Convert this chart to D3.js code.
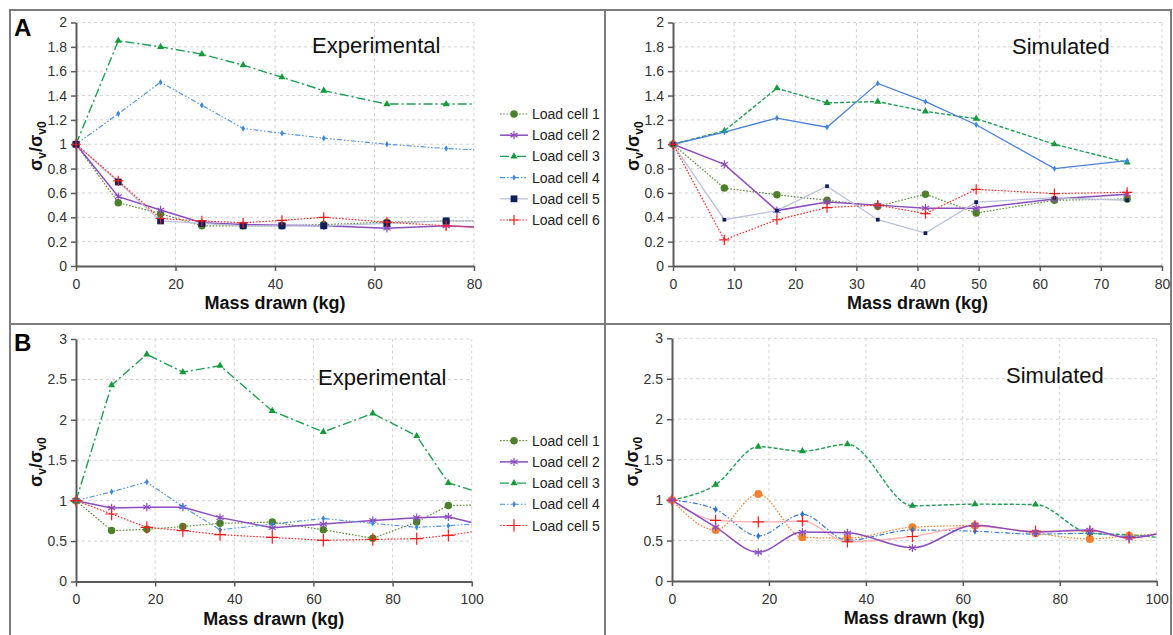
<!DOCTYPE html>
<html>
<head>
<meta charset="utf-8">
<script src="https://cdn.jsdelivr.net/npm/d3@7"></script>
<style>
    body { margin: 0; background: #fff; }
    svg text { font-family: "Liberation Sans", Arial, sans-serif; }
</style>
</head>
<body>
<div id="chart"></div>
<script>
// ---- panel A, experimental (mass drawn in kg, sigma_v / sigma_v0) ----
const massAExp = [0, 8.5, 17, 25.3, 33.6, 41.4, 49.8, 62.5, 74.4, 80];
const aExp1 = [1, 0.52, 0.43, 0.33, 0.33, 0.33, 0.34, 0.36, 0.37, 0.37];
const aExp2 = [1, 0.57, 0.46, 0.355, 0.34, 0.335, 0.33, 0.31, 0.33, 0.32];
const aExp3 = [1, 1.85, 1.80, 1.74, 1.65, 1.55, 1.44, 1.33, 1.33, 1.33];
const aExp4 = [1, 1.25, 1.51, 1.32, 1.13, 1.09, 1.05, 1.0, 0.965, 0.955];
const aExp5 = [1, 0.69, 0.37, 0.35, 0.33, 0.33, 0.33, 0.35, 0.37, 0.37];
const aExp6 = [1, 0.70, 0.39, 0.37, 0.355, 0.375, 0.40, 0.36, 0.33, 0.32];

// ---- panel A, simulated ----
const massASim = [0, 8.4, 17, 25.2, 33.5, 41.3, 49.6, 62.4, 74.3];
const aSim1 = [1, 0.64, 0.585, 0.54, 0.49, 0.59, 0.435, 0.54, 0.55];
const aSim2 = [1, 0.835, 0.455, 0.525, 0.50, 0.475, 0.475, 0.55, 0.59];
const aSim3 = [1, 1.11, 1.46, 1.34, 1.35, 1.27, 1.21, 1.00, 0.85];
const aSim4 = [1, 1.10, 1.215, 1.14, 1.50, 1.35, 1.16, 0.80, 0.865];
const aSim5 = [1, 0.38, 0.455, 0.655, 0.38, 0.27, 0.525, 0.56, 0.54];
const aSim6 = [1, 0.215, 0.38, 0.48, 0.50, 0.43, 0.63, 0.595, 0.605];

// ---- panel B, experimental ----
const massBExp = [0, 9, 17.9, 27, 36.4, 49.6, 62.5, 75, 86.1, 94.1, 100];
const bExp1 = [1, 0.63, 0.645, 0.68, 0.72, 0.735, 0.64, 0.535, 0.735, 0.94, 0.945];
const bExp2 = [1, 0.91, 0.92, 0.92, 0.79, 0.665, 0.71, 0.755, 0.79, 0.80, 0.73];
const bExp3 = [1, 2.43, 2.81, 2.59, 2.67, 2.11, 1.85, 2.08, 1.80, 1.22, 1.13];
const bExp4 = [1, 1.11, 1.23, 0.925, 0.64, 0.71, 0.78, 0.72, 0.67, 0.69, 0.71];
const bExp5 = [1, 0.835, 0.67, 0.63, 0.58, 0.545, 0.51, 0.52, 0.53, 0.57, 0.615];

// ---- panel B, simulated ----
const massBSim = [0, 9, 17.8, 26.9, 36.2, 49.6, 62.5, 75, 86.2, 94.3, 100];
const bSim1 = [1, 0.63, 1.075, 0.54, 0.53, 0.665, 0.685, 0.59, 0.52, 0.56, 0.58];
const bSim2 = [1, 0.665, 0.355, 0.605, 0.595, 0.41, 0.69, 0.605, 0.63, 0.53, 0.58];
const bSim3 = [1, 1.19, 1.66, 1.605, 1.69, 0.93, 0.95, 0.945, 0.59, 0.57, 0.54];
const bSim4 = [1, 0.885, 0.555, 0.825, 0.505, 0.63, 0.615, 0.58, 0.59, 0.55, 0.58];
const bSim5 = [1, 0.75, 0.73, 0.74, 0.485, 0.55, 0.68, 0.615, 0.62, 0.535, 0.58];

const legendA = ['Load cell 1', 'Load cell 2', 'Load cell 3', 'Load cell 4', 'Load cell 5', 'Load cell 6'];
const legendB = ['Load cell 1', 'Load cell 2', 'Load cell 3', 'Load cell 4', 'Load cell 5'];

// line / marker looks
const cell1 = { line: '#5d8b36', dash: '1.6,1.6', width: 1.2, sym: d3.symbolCircle, size: 44, fill: '#4e7f2a' };
const cell2 = { line: '#8b4cbf', dash: null, width: 1.5, sym: d3.symbolAsterisk, size: 48, fill: 'none', stroke: '#8b4cbf' };
const cell3 = { line: '#1f9e55', dash: '9,3,2,3', width: 1.4, sym: d3.symbolTriangle, size: 22, fill: '#159a3a' };
const cell4 = { line: '#4a90e0', dash: '5,2,1.5,2,1.5,2', width: 1.1, sym: d3.symbolDiamond, size: 12, fill: '#3a86e0' };
const cell5 = { line: '#b9c2dc', dash: null, width: 1.3, sym: d3.symbolSquare, size: 46, fill: '#0f1f5c' };
const cell6 = { line: '#ff2a2a', dash: '1.6,1.6', width: 1.2, sym: d3.symbolPlus, size: 36, fill: 'none', stroke: '#ff1a1a' };

const sim3 = Object.assign({}, cell3, { dash: '4,2' });
const sim4 = Object.assign({}, cell4, { dash: null, width: 1.3, line: '#4a80d8' });
const sim5 = Object.assign({}, cell5, { size: 14 });
const exp6B = Object.assign({}, cell6, { size: 52 });
const bSimOrange = { line: '#f28a3c', dash: '1.6,1.6', width: 1.3, sym: d3.symbolCircle, size: 50, fill: '#f28030' };
const bSimBlue = { line: '#3a7ad8', dash: '5,2,1.5,2', width: 1.2, sym: d3.symbolDiamond, size: 14, fill: '#2e70d0' };
const bSimRed = { line: '#ffb0b0', dash: null, width: 1.3, sym: d3.symbolPlus, size: 44, fill: 'none', stroke: '#ff1a1a' };

const svg = d3.select('#chart')
    .append('svg')
    .attr('width', 1173)
    .attr('height', 635);

// frame
const frame = svg.append('g')
    .attr('stroke', '#7c7c7c')
    .attr('stroke-width', 2)
    .attr('fill', 'none');
frame.append('rect').attr('x', 10).attr('y', 10).attr('width', 1161).attr('height', 640);
frame.append('line').attr('x1', 10).attr('x2', 1171).attr('y1', 324).attr('y2', 324);
frame.append('line').attr('x1', 605).attr('x2', 605).attr('y1', 10).attr('y2', 640);

function drawPanel(cfg) {
    const g = svg.append('g');
    const x = d3.scaleLinear().domain([0, cfg.xMax]).range(cfg.xRange);
    const y = d3.scaleLinear().domain([0, cfg.yMax]).range(cfg.yRange);
    const xTicks = d3.range(0, cfg.xMax + 0.001, cfg.xStep);
    const yTicks = d3.range(0, cfg.yMax + 0.001, cfg.yStep);
    const fmt = d => String(+d.toFixed(2));

    // grid
    g.append('g').selectAll('line')
        .data(yTicks.slice(1))
        .enter().append('line')
        .attr('x1', cfg.xRange[0]).attr('x2', cfg.xRange[1])
        .attr('y1', d => y(d)).attr('y2', d => y(d))
        .attr('stroke', '#d2d2d2').attr('stroke-dasharray', '3,3');
    g.append('g').selectAll('line')
        .data(xTicks.slice(1))
        .enter().append('line')
        .attr('x1', d => x(d)).attr('x2', d => x(d))
        .attr('y1', cfg.yRange[0]).attr('y2', cfg.yRange[1])
        .attr('stroke', '#d2d2d2').attr('stroke-dasharray', '3,3');

    const xAxis = g.append('g')
        .attr('transform', `translate(0,${cfg.yRange[0]})`)
        .call(d3.axisBottom(x).tickValues(xTicks).tickFormat(fmt).tickSize(5).tickSizeOuter(0));
    const yAxis = g.append('g')
        .attr('transform', `translate(${cfg.xRange[0]},0)`)
        .call(d3.axisLeft(y).tickValues(yTicks).tickFormat(fmt).tickSize(5).tickSizeOuter(0));
    [xAxis, yAxis].forEach(a => {
        a.select('.domain').attr('stroke', '#5a5a5a').attr('stroke-width', 2);
        a.selectAll('.tick line').attr('stroke', '#5a5a5a').attr('stroke-width', 1.5);
        a.selectAll('.tick text').attr('fill', '#333').style('font-size', '14px');
    });
    xAxis.selectAll('.tick text').attr('dy', '1.05em');
    yAxis.selectAll('.tick text').attr('x', -9);

    // series
    const clipId = 'clip' + cfg.id;
    g.append('clipPath').attr('id', clipId)
        .append('rect')
        .attr('x', cfg.xRange[0]).attr('y', cfg.yRange[1] - 5)
        .attr('width', cfg.xRange[1] - cfg.xRange[0]).attr('height', cfg.yRange[0] - cfg.yRange[1] + 5);
    const plot = g.append('g').attr('clip-path', `url(#${clipId})`);
    const line = d3.line()
        .x(d => x(d[0]))
        .y(d => y(d[1]))
        .curve(cfg.curve || d3.curveLinear);

    cfg.series.forEach(s => {
        const pts = cfg.mass.map((m, i) => [m, s.values[i]]);
        plot.append('path')
            .datum(pts)
            .attr('d', line)
            .attr('fill', 'none')
            .attr('stroke', s.style.line)
            .attr('stroke-width', s.style.width)
            .attr('stroke-dasharray', s.style.dash);
    });
    cfg.series.forEach(s => {
        const pts = cfg.mass.map((m, i) => [m, s.values[i]]).filter(d => d[0] < cfg.xMax);
        g.append('g').selectAll('path')
            .data(pts)
            .enter().append('path')
            .attr('transform', d => `translate(${x(d[0])},${y(d[1])})`)
            .attr('d', d3.symbol().type(s.style.sym).size(s.style.size))
            .attr('fill', s.style.fill)
            .attr('stroke', s.style.stroke || 'none')
            .attr('stroke-width', 1.2);
    });

    // axis titles
    g.append('text')
        .attr('x', (cfg.xRange[0] + cfg.xRange[1]) / 2)
        .attr('y', cfg.yRange[0] + 43)
        .attr('text-anchor', 'middle')
        .style('font-size', '18px')
        .style('font-weight', 'bold')
        .attr('fill', '#111')
        .text('Mass drawn (kg)');

    const yl = g.append('text')
        .attr('transform', `translate(${cfg.xRange[0] - 34},${(cfg.yRange[0] + cfg.yRange[1]) / 2 + 2}) rotate(-90)`)
        .attr('text-anchor', 'middle')
        .style('font-size', '18px')
        .style('font-weight', 'bold')
        .attr('fill', '#111');
    yl.append('tspan').text('σ');
    yl.append('tspan').attr('dy', 4).style('font-size', '12px').text('v');
    yl.append('tspan').attr('dy', -4).text('/σ');
    yl.append('tspan').attr('dy', 4).style('font-size', '12px').text('v0');

    g.append('text')
        .attr('x', cfg.titleX)
        .attr('y', cfg.titleY)
        .style('font-size', '22px')
        .attr('fill', '#111')
        .text(cfg.title);

    if (cfg.legend) {
        const lg = g.append('g');
        cfg.legend.forEach((name, i) => {
            const s = cfg.series[i].style;
            const ly = cfg.legendY + i * 21.2;
            lg.append('line')
                .attr('x1', 500).attr('x2', 528)
                .attr('y1', ly).attr('y2', ly)
                .attr('stroke', s.line)
                .attr('stroke-width', s.width)
                .attr('stroke-dasharray', s.dash);
            lg.append('path')
                .attr('transform', `translate(514,${ly})`)
                .attr('d', d3.symbol().type(s.sym).size(s.size))
                .attr('fill', s.fill)
                .attr('stroke', s.stroke || 'none')
                .attr('stroke-width', 1.2);
            lg.append('text')
                .attr('x', 532)
                .attr('y', ly + 5)
                .style('font-size', '14px')
                .attr('fill', '#222')
                .text(name);
        });
    }
}

drawPanel({
    id: 'ae', xMax: 80, xStep: 20, yMax: 2, yStep: 0.2,
    xRange: [76, 474], yRange: [266, 22.5],
    mass: massAExp,
    series: [
        { values: aExp1, style: cell1 }, { values: aExp2, style: cell2 },
        { values: aExp3, style: cell3 }, { values: aExp4, style: cell4 },
        { values: aExp5, style: cell5 }, { values: aExp6, style: cell6 }
    ],
    title: 'Experimental', titleX: 312, titleY: 53,
    legend: legendA, legendY: 114
});

drawPanel({
    id: 'as', xMax: 80, xStep: 10, yMax: 2, yStep: 0.2,
    xRange: [673, 1162], yRange: [266, 22.5],
    mass: massASim,
    series: [
        { values: aSim1, style: cell1 }, { values: aSim2, style: cell2 },
        { values: aSim3, style: sim3 }, { values: aSim4, style: sim4 },
        { values: aSim5, style: sim5 }, { values: aSim6, style: cell6 }
    ],
    title: 'Simulated', titleX: 1012, titleY: 54
});

drawPanel({
    id: 'be', xMax: 100, xStep: 20, yMax: 3, yStep: 0.5,
    xRange: [76, 471.7], yRange: [581.5, 339],
    mass: massBExp,
    series: [
        { values: bExp1, style: cell1 }, { values: bExp2, style: cell2 },
        { values: bExp3, style: cell3 }, { values: bExp4, style: cell4 },
        { values: bExp5, style: exp6B }
    ],
    title: 'Experimental', titleX: 318, titleY: 385,
    legend: legendB, legendY: 440.7
});

drawPanel({
    id: 'bs', xMax: 100, xStep: 20, yMax: 3, yStep: 0.5,
    xRange: [672, 1156.7], yRange: [581, 338.3],
    mass: massBSim,
    curve: d3.curveMonotoneX,
    series: [
        { values: bSim3, style: sim3 }, { values: bSim1, style: bSimOrange },
        { values: bSim4, style: bSimBlue }, { values: bSim5, style: bSimRed },
        { values: bSim2, style: cell2 }
    ],
    title: 'Simulated', titleX: 1006, titleY: 383
});

// panel letters
svg.append('text').attr('x', 14).attr('y', 36)
    .style('font-size', '24px').style('font-weight', 'bold').text('A');
svg.append('text').attr('x', 14).attr('y', 351)
    .style('font-size', '24px').style('font-weight', 'bold').text('B');
</script>
</body>
</html>
